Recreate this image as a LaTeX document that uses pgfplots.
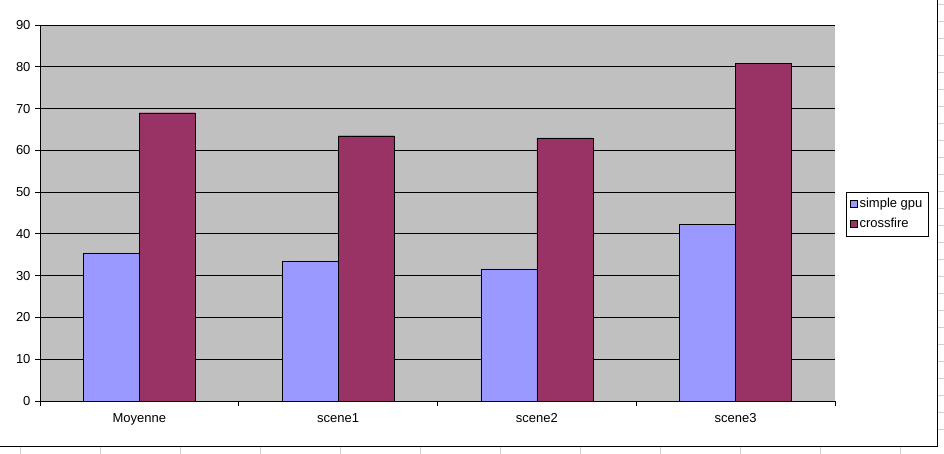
\documentclass[border=0pt]{standalone}
\usepackage{pgfplots}
\pgfplotsset{compat=1.18}
\usepackage{fontspec}
\setmainfont{Liberation Sans}
\definecolor{gpu}{HTML}{9999FF}
\definecolor{cross}{HTML}{993366}
\definecolor{plotbg}{HTML}{C0C0C0}
\definecolor{sheet}{HTML}{D0D0D0}

\begin{document}
\begin{tikzpicture}[x=1pt,y=1pt]
\path[use as bounding box] (0,0) rectangle (944,454);
% spreadsheet cells showing round the chart
\foreach \x in {20,100,...,900} \draw[sheet] (\x,0) -- (\x,8);
\foreach \y in {25,42,...,450} \draw[sheet] (937,\y) -- (944,\y);
% chart border
\draw[black, line width=0.8pt] (0,8) -- (937,8) -- (937,454);
\begin{axis}[
    at={(40pt,53pt)}, anchor=south west,
    scale only axis, width=795pt, height=376pt,
    ybar=0pt, bar width=56pt,
    xmin=-0.5, xmax=3.5, ymin=0, ymax=90,
    ytick={0,10,...,90},
    xtick={0,1,2,3},
    xticklabels={Moyenne,scene1,scene2,scene3},
    minor xtick={-0.5,0.5,1.5,2.5,3.5},
    major x tick style={draw=none},
    axis lines=left,
    axis line style={-, black, line width=0.8pt},
    tick style={black, line width=0.8pt},
    tick align=outside,
    major tick length=5pt, minor tick length=5pt,
    ymajorgrids, grid style={black, line width=0.8pt},
    axis background/.style={fill=plotbg},
    /pgf/number format/assume math mode=true,
    tick label style={font=\fontsize{13}{15}\selectfont},
    yticklabel style={xshift=-1pt},
    xticklabel style={yshift=-4pt},
    legend style={at={(1.0138,0.5559)}, anchor=north west,
        draw=black, fill=white, inner sep=4pt,
        font=\fontsize{13}{15}\selectfont,
        nodes={inner sep=2pt, text height=9pt, text depth=3pt},
        row sep=4pt},
    legend cell align=left,
    legend image code/.code={\draw[#1] (0pt,-3.5pt) rectangle (7pt,3.5pt);},
]
\addplot[fill=gpu, draw=black] coordinates {(0,35.4) (1,33.5) (2,31.6) (3,42.2)};
\addplot[fill=cross, draw=black] coordinates {(0,69.0) (1,63.5) (2,63.0) (3,80.8)};
\legend{simple gpu, crossfire}
\end{axis}
\end{tikzpicture}
\end{document}
